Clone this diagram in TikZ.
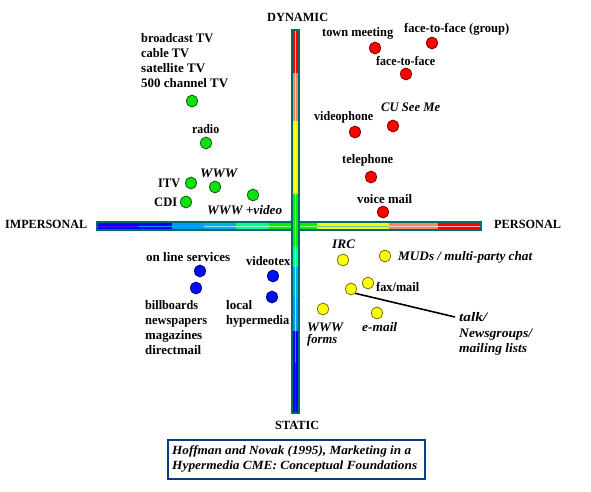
\documentclass[tikz,border=0pt]{standalone}
\usepackage{graphicx}
\usepackage{fontspec}
\setmainfont{Liberation Serif}
\usetikzlibrary{shapes.geometric}
\definecolor{barline}{HTML}{006B6B}
\definecolor{salmon}{HTML}{F08868}
\definecolor{sgreen}{HTML}{00FF90}
\definecolor{bgreen}{HTML}{00F000}
\definecolor{dblue}{HTML}{0099FF}
\definecolor{pblue}{HTML}{0000FF}
\definecolor{vblue}{HTML}{5A00FF}
\definecolor{dotgreen}{HTML}{10E010}
\definecolor{dotred}{HTML}{FF0000}
\definecolor{dotblue}{HTML}{0010F0}
\definecolor{dotyellow}{HTML}{FFFF00}
\definecolor{boxblue}{HTML}{0A3C7E}
\newcommand\fw[2]{\resizebox{#1pt}{\height}{#2}}
\tikzset{
  lbl/.style={inner sep=0pt, anchor=base west, font=\fontsize{13}{15}\selectfont\bfseries},
  ilbl/.style={inner sep=0pt, anchor=base west, font=\fontsize{13}{15}\selectfont\bfseries\itshape},
  clbl/.style={inner sep=0pt, anchor=base west, font=\fontsize{12.5}{15}\selectfont\bfseries\itshape},
  axlbl/.style={inner sep=0pt, font=\fontsize{12.5}{15}\selectfont\bfseries},
  dot/.style={ellipse, minimum width=11pt, minimum height=12pt, inner sep=0pt, line width=0.8pt},
  gdot/.style={dot, fill=dotgreen, draw=dotgreen!45!black},
  rdot/.style={dot, fill=dotred, draw=dotred!50!black},
  bdot/.style={dot, fill=dotblue, draw=dotblue!50!black},
  ydot/.style={dot, fill=dotyellow, draw=dotyellow!45!black},
}
\begin{document}
\begin{tikzpicture}[x=1pt,y=-1pt]
\useasboundingbox (0,0) rectangle (591,492);
\fill[white] (0,0) rectangle (591,492);
% horizontal bar
\foreach \a/\b/\c/\d in {97/138/pblue/vblue,138/172/pblue/dblue,172/204/dblue/cyan,204/236/cyan/cyan!40!white,236/269/sgreen/sgreen!40!white,269/317/bgreen/bgreen!40!white,317/389/yellow/cyan!60!yellow,389/438/salmon/salmon!40!white,438/481/red/red!30!white}{
  \fill[\c] (\a,222) rectangle (\b,230);
  \draw[\d, line width=1pt] (\a,226) -- (\b,226);
}
\draw[barline, line width=1.2pt] (97,222) rectangle (481,230);
% vertical bar
\foreach \a/\b/\c/\d in {30/73/red/red!30!white,73/121/salmon/salmon!40!white,121/194/yellow/yellow!40!white,194/247/bgreen/bgreen!40!white,247/267/sgreen/sgreen!40!white,267/298/cyan/cyan!40!white,298/331/dblue/dblue!40!white,331/363/pblue/dblue,363/413/pblue/vblue}{
  \fill[\c] (292,\a) rectangle (299,\b);
  \draw[\d, line width=1pt] (295.5,\a) -- (295.5,\b);
}
\draw[barline, line width=1.2pt] (292,30) rectangle (299,413);
% axis labels
\node[axlbl, anchor=base west] (dyn) at (267,22) {\fw{61}{DYNAMIC}};
\node[axlbl, anchor=base west] (sta) at (275,429) {\fw{44}{STATIC}};
\node[axlbl, anchor=base west] (imp) at (5,228) {\fw{82}{IMPERSONAL}};
\node[axlbl, anchor=base west] (per) at (494,228) {\fw{67}{PERSONAL}};
% green group
\node[lbl] (l1) at (141,43) {\fw{72}{broadcast TV}};
\node[lbl] (l2) at (141,58) {\fw{48}{cable TV}};
\node[lbl] (l3) at (141,73) {\fw{64}{satellite TV}};
\node[lbl] (l4) at (141,88) {\fw{87}{500 channel TV}};
\node[gdot] (g1) at (192,101) {};
\node[lbl] (lradio) at (192,133) {\fw{27}{radio}};
\node[gdot] (g2) at (206,143) {};
\node[lbl] (litv) at (158,187) {\fw{22}{ITV}};
\node[gdot] (g3) at (191,183) {};
\node[ilbl] (lwww) at (200,177) {\fw{37}{WWW}};
\node[gdot] (g4) at (215,187) {};
\node[lbl] (lcdi) at (154,206) {\fw{23}{CDI}};
\node[gdot] (g5) at (186,202) {};
\node[gdot] (g6) at (253,195) {};
\node[ilbl] (lwwwv) at (207,214) {\fw{75}{WWW +video}};
% red group
\node[lbl] (ltown) at (322,37) {\fw{71}{town meeting}};
\node[lbl] (lgroup) at (404,33) {\fw{105}{face-to-face (group)}};
\node[rdot] (r1) at (375,48) {};
\node[rdot] (r2) at (432,43) {};
\node[lbl] (lf2f) at (376,66) {\fw{59}{face-to-face}};
\node[rdot] (r3) at (406,74) {};
\node[ilbl] (lcu) at (381,111) {\fw{59}{CU See Me}};
\node[lbl] (lvp) at (314,121) {\fw{59}{videophone}};
\node[rdot] (r4) at (393,126) {};
\node[rdot] (r5) at (355,132) {};
\node[lbl] (ltel) at (342,163) {\fw{51}{telephone}};
\node[rdot] (r6) at (371,177) {};
\node[lbl] (lvm) at (357,203) {\fw{55}{voice mail}};
\node[rdot] (r7) at (383,212) {};
% blue group
\node[lbl] (lols) at (146,261) {\fw{84}{on line services}};
\node[bdot] (b1) at (200,271) {};
\node[bdot] (b2) at (196,288) {};
\node[lbl] (lvtx) at (246,265) {\fw{44}{videotex}};
\node[bdot] (b3) at (273,276) {};
\node[bdot] (b4) at (272,297) {};
\node[lbl] (lb1) at (145,309) {\fw{53}{billboards}};
\node[lbl] (lb2) at (145,324) {\fw{62}{newspapers}};
\node[lbl] (lb3) at (145,339) {\fw{57}{magazines}};
\node[lbl] (lb4) at (145,354) {\fw{56}{directmail}};
\node[lbl] (lh1) at (226,309) {\fw{26}{local}};
\node[lbl] (lh2) at (226,324) {\fw{63}{hypermedia}};
% yellow group
\node[ilbl] (lirc) at (332,248) {\fw{23}{IRC}};
\node[ydot] (y1) at (343,260) {};
\node[ydot] (y2) at (385,256) {};
\node[ilbl] (lmud) at (398,260) {\fw{134}{MUDs / multi-party chat}};
\node[ydot] (y3) at (368,283) {};
\node[lbl] (lfax) at (376,291) {\fw{43}{fax/mail}};
\node[ydot] (y4) at (351,289) {};
\node[ydot] (y5) at (323,309) {};
\node[ydot] (y6) at (377,313) {};
\node[ilbl] (lwf1) at (307,331) {\fw{36}{WWW}};
\node[ilbl] (lwf2) at (307,343) {\fw{30}{forms}};
\node[ilbl] (lem) at (362,331) {\fw{35}{e-mail}};
\node[ilbl] (lt1) at (459,321) {\fw{28}{talk/}};
\node[ilbl] (lt2) at (459,337) {\fw{73}{Newsgroups/}};
\node[ilbl] (lt3) at (459,352) {\fw{68}{mailing lists}};
\coordinate (talkend) at (455,317);
\draw[black, line width=1.6pt] (y4.-45) -- (talkend);
% citation box
\node[draw=boxblue, line width=2.2pt, minimum width=257pt, minimum height=39pt, inner sep=0pt, anchor=north west] (box) at (167,439) {};
\node[clbl] (c1) at (172,454) {\fw{239}{Hoffman and Novak (1995), Marketing in a}};
\node[clbl] (c2) at (172,469) {\fw{245}{Hypermedia CME: Conceptual Foundations}};
\end{tikzpicture}
\end{document}
